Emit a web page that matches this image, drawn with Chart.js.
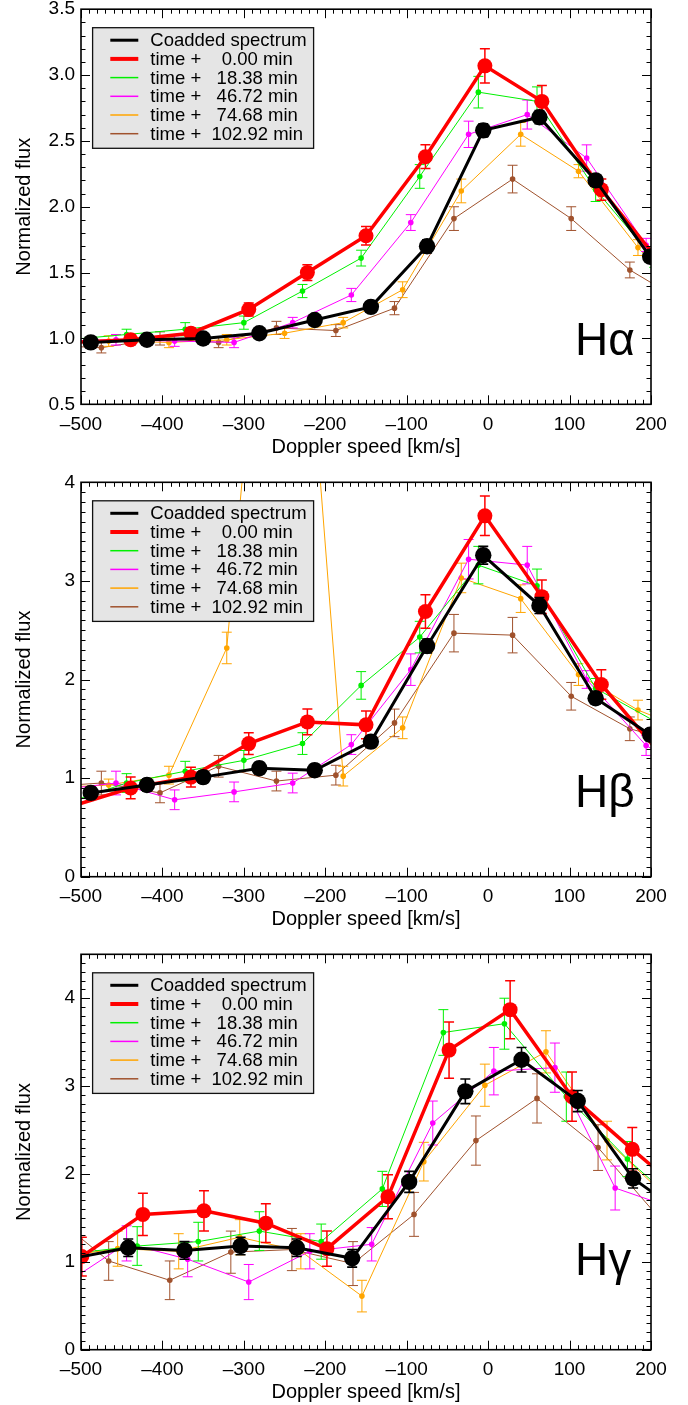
<!DOCTYPE html>
<html>
<head>
<meta charset="utf-8">
<script src="https://cdn.jsdelivr.net/npm/chart.js@4.4.1/dist/chart.umd.min.js"></script>
<style>
  body { margin: 0; background: #fff; width: 688px; height: 1405px; position: relative; overflow: hidden; }
  canvas { position: absolute; left: 0; }
</style>
</head>
<body>
<canvas id="c1" width="688" height="465" style="top:0px"></canvas>
<canvas id="c2" width="688" height="470" style="top:465px"></canvas>
<canvas id="c3" width="688" height="470" style="top:935px"></canvas>
<script>
// legend labels / colours
const seriesLabels = ['Coadded spectrum', 'time +    0.00 min', 'time +   18.38 min',
                      'time +   46.72 min', 'time +   74.68 min', 'time +  102.92 min'];
const seriesColors = ['#000000', '#ff0000', '#00f000', '#ff00ff', '#ffa500', '#a0522d'];

// tick labels
const xTicks = [-500, -400, -300, -200, -100, 0, 100, 200];
const yTicksHa = [0.5, 1.0, 1.5, 2.0, 2.5, 3.0, 3.5];
const yTicksHb = [0, 1, 2, 3, 4];
const yTicksHg = [0, 1, 2, 3, 4];

// velocity bins (km/s), H-alpha and H-beta
const velCoadd = [-488, -419, -350, -281, -213, -144, -75, -6, 63, 132, 199];
const velT0    = [-513, -439, -365, -294, -222, -150, -77, -4, 66, 139, 212];
const velT18   = [-517, -444, -372, -300, -228, -156, -84, -12, 60, 132, 204];
const velT46   = [-530, -457, -385, -312, -240, -168, -95, -24, 48, 121, 194, 267];
const velT74   = [-541, -466, -392, -321, -250, -178, -105, -33, 40, 111, 184, 257];
const velT102  = [-549, -475, -403, -331, -260, -187, -115, -42, 30, 102, 174, 247];

// H-alpha
const haCoadd    = [0.97, 0.99, 1.00, 1.04, 1.14, 1.24, 1.70, 2.58, 2.68, 2.20, 1.62];
const haCoaddErr = [0.03, 0.03, 0.03, 0.03, 0.03, 0.04, 0.05, 0.05, 0.05, 0.04, 0.04];
const haT0       = [0.97, 0.99, 1.04, 1.22, 1.50, 1.78, 2.38, 3.07, 2.80, 2.13, 1.57];
const haT0Err    = [0.04, 0.04, 0.04, 0.05, 0.06, 0.07, 0.09, 0.13, 0.12, 0.08, 0.07];
const haT18      = [0.99, 1.03, 1.07, 1.12, 1.36, 1.61, 2.23, 2.87, 2.80, 2.13, 1.60];
const haT18Err   = [0.04, 0.04, 0.05, 0.05, 0.05, 0.06, 0.09, 0.12, 0.11, 0.09, 0.06];
const haT46      = [0.98, 0.99, 0.98, 0.97, 1.12, 1.33, 1.88, 2.55, 2.70, 2.37, 1.71, 1.20];
const haT46Err   = [0.04, 0.04, 0.04, 0.04, 0.04, 0.05, 0.06, 0.10, 0.11, 0.10, 0.05, 0.05];
const haT74      = [0.97, 0.98, 0.97, 0.99, 1.04, 1.12, 1.37, 2.12, 2.55, 2.27, 1.69, 1.20];
const haT74Err   = [0.04, 0.04, 0.04, 0.04, 0.04, 0.04, 0.06, 0.09, 0.09, 0.05, 0.06, 0.05];
const haT102     = [0.95, 0.93, 1.00, 0.97, 1.08, 1.06, 1.23, 1.91, 2.21, 1.91, 1.52, 1.25];
const haT102Err  = [0.04, 0.04, 0.05, 0.04, 0.05, 0.045, 0.05, 0.09, 0.105, 0.09, 0.06, 0.05];

// H-beta
const hbCoadd    = [0.85, 0.93, 1.01, 1.10, 1.08, 1.37, 2.34, 3.26, 2.75, 1.81, 1.44];
const hbCoaddErr = [0.06, 0.06, 0.06, 0.06, 0.06, 0.06, 0.07, 0.09, 0.08, 0.06, 0.06];
const hbT0       = [0.71, 0.90, 1.01, 1.35, 1.57, 1.54, 2.69, 3.66, 2.84, 1.95, 1.24];
const hbT0Err    = [0.10, 0.11, 0.10, 0.11, 0.13, 0.14, 0.17, 0.20, 0.17, 0.15, 0.12];
const hbT18      = [0.75, 0.95, 1.07, 1.18, 1.35, 1.94, 2.43, 3.16, 2.95, 1.91, 1.58];
const hbT18Err   = [0.09, 0.095, 0.10, 0.10, 0.11, 0.14, 0.16, 0.19, 0.17, 0.10, 0.10];
const hbT46      = [0.88, 0.95, 0.78, 0.86, 0.95, 1.34, 2.10, 3.22, 3.16, 2.00, 1.33, 1.00];
const hbT46Err   = [0.10, 0.12, 0.10, 0.10, 0.10, 0.10, 0.16, 0.20, 0.19, 0.09, 0.10, 0.10];
const hbT74      = [0.90, 0.93, 1.03, 2.32, 8.70, 1.02, 1.51, 3.03, 2.82, 2.05, 1.69, 1.45];
const hbT74Err   = [0.06, 0.06, 0.09, 0.16, 0.30, 0.10, 0.11, 0.15, 0.14, 0.11, 0.10, 0.10];
const hbT102     = [0.91, 0.95, 0.85, 1.12, 0.97, 1.03, 1.56, 2.47, 2.45, 1.83, 1.50, 1.34];
const hbT102Err  = [0.12, 0.12, 0.10, 0.11, 0.10, 0.10, 0.14, 0.19, 0.18, 0.14, 0.12, 0.12];

// H-gamma (own velocity bins)
const velCoaddG = [-510, -442, -373, -304, -235, -167, -97, -28, 41, 110, 178, 247];
const velT0G    = [-499, -424, -349, -273, -198, -123, -48, 27, 103, 177, 252];
const velT18G   = [-506, -431, -356, -281, -205, -130, -55, 20, 96, 171, 245];
const velT46G   = [-518, -444, -369, -294, -219, -143, -68, 7, 82, 156, 231];
const velT74G   = [-530, -455, -380, -305, -230, -155, -79, -4, 71, 146, 221];
const velT102G  = [-541, -466, -391, -316, -241, -166, -91, -15, 60, 135, 210];

const hgCoadd    = [1.04, 1.16, 1.13, 1.18, 1.16, 1.04, 1.91, 2.94, 3.30, 2.83, 1.95, 1.49];
const hgCoaddErr = [0.10, 0.10, 0.10, 0.10, 0.10, 0.10, 0.12, 0.14, 0.14, 0.12, 0.11, 0.10];
const hgT0       = [1.06, 1.54, 1.58, 1.44, 1.15, 1.74, 3.41, 3.87, 2.88, 2.28, 1.69];
const hgT0Err    = [0.22, 0.24, 0.23, 0.22, 0.20, 0.25, 0.32, 0.33, 0.28, 0.25, 0.25];
const hgT18      = [1.10, 1.18, 1.23, 1.35, 1.23, 1.83, 3.61, 3.71, 2.88, 2.17, 1.56];
const hgT18Err   = [0.20, 0.22, 0.22, 0.22, 0.20, 0.20, 0.26, 0.29, 0.28, 0.20, 0.20];
const hgT46      = [0.76, 1.21, 1.03, 0.77, 1.12, 1.20, 2.58, 3.17, 3.21, 1.84, 1.60];
const hgT46Err   = [0.20, 0.20, 0.20, 0.20, 0.20, 0.19, 0.25, 0.27, 0.28, 0.25, 0.20];
const hgT74      = [1.05, 1.15, 1.12, 1.28, 1.12, 0.61, 2.14, 3.01, 3.39, 2.38, 1.72];
const hgT74Err   = [0.20, 0.20, 0.20, 0.20, 0.20, 0.18, 0.22, 0.24, 0.24, 0.22, 0.20];
const hgT102     = [1.58, 1.01, 0.79, 1.11, 1.14, 0.98, 1.54, 2.38, 2.86, 2.30, 1.50];
const hgT102Err  = [0.25, 0.22, 0.22, 0.24, 0.24, 0.25, 0.25, 0.28, 0.28, 0.26, 0.25];

// styling
const FAMILY = "'Liberation Sans', Arial, Helvetica, sans-serif";
const lineWidths = [3, 3.5, 1, 1, 1, 1];
const markerSizes = [8.2, 7.5, 2.8, 2.8, 2.8, 2.8];
const errWidths = [1.6, 1.5, 1, 1, 1, 1];
const legendWidths = [3, 4, 1.5, 1.5, 1.5, 1.5];

// error bars, drawn right after each dataset
const errPlugin = {
  id: 'errbars',
  afterDatasetDraw(chart, args) {
    const ds = chart.data.datasets[args.index];
    if (!ds.err) return;
    const { ctx, chartArea: a, scales: { y } } = chart;
    ctx.save();
    ctx.beginPath();
    ctx.rect(a.left, a.top, a.right - a.left, a.bottom - a.top);
    ctx.clip();
    ctx.strokeStyle = ds.borderColor;
    ctx.lineWidth = ds.errWidth;
    ctx.beginPath();
    args.meta.data.forEach((pt, i) => {
      const e = ds.err[i];
      const v = ds.data[i].y;
      const t = y.getPixelForValue(v + e), b = y.getPixelForValue(v - e);
      ctx.moveTo(pt.x, t); ctx.lineTo(pt.x, b);
      ctx.moveTo(pt.x - 5, t); ctx.lineTo(pt.x + 5, t);
      ctx.moveTo(pt.x - 5, b); ctx.lineTo(pt.x + 5, b);
    });
    ctx.stroke();
    ctx.restore();
  }
};

// grey legend box in the upper left
const boxPlugin = {
  id: 'box',
  afterDatasetsDraw(chart) {
    const { ctx, chartArea: a } = chart;
    const x0 = a.left + 11.6, y0 = a.top + 18.5;
    ctx.save();
    ctx.fillStyle = '#e5e5e5';
    ctx.fillRect(x0, y0, 221, 120.6);
    ctx.strokeStyle = '#111';
    ctx.lineWidth = 1.3;
    ctx.strokeRect(x0, y0, 221, 120.6);
    ctx.font = '18.5px ' + FAMILY;
    ctx.textBaseline = 'middle';
    chart.data.datasets.forEach((ds, i) => {
      const yy = y0 + 12.5 + i * 18.7;
      ctx.strokeStyle = ds.borderColor;
      ctx.lineWidth = legendWidths[i];
      ctx.beginPath();
      ctx.moveTo(a.left + 29.3, yy); ctx.lineTo(a.left + 57.3, yy);
      ctx.stroke();
      ctx.fillStyle = '#000';
      ctx.fillText(ds.label, a.left + 69.3, yy + 1);
    });
    ctx.restore();
  }
};

// box frame with inward ticks on all sides, plus the line name
const framePlugin = {
  id: 'frame',
  afterDraw(chart) {
    const { ctx, chartArea: a, scales: { x, y } } = chart;
    const opt = chart.options.plugins.frame;
    ctx.save();
    ctx.strokeStyle = '#000';
    ctx.lineWidth = 1;
    ctx.beginPath();
    for (let k = 0; k <= 70; k++) {
      const v = -500 + k * 10;
      const px = Math.round(x.getPixelForValue(v)) + 0.5;
      const len = k % 10 === 0 ? 9 : 4.5;
      ctx.moveTo(px, a.bottom); ctx.lineTo(px, a.bottom - len);
      ctx.moveTo(px, a.top); ctx.lineTo(px, a.top + len);
    }
    const n = Math.round((y.max - y.min) * 10);
    for (let k = 0; k <= n; k++) {
      const v = y.min + k / 10;
      const py = Math.round(y.getPixelForValue(v)) + 0.5;
      const major = opt.yTicks.some(t => Math.abs(t - v) < 1e-6);
      const len = major ? 9 : 4.5;
      ctx.moveTo(a.left, py); ctx.lineTo(a.left + len, py);
      ctx.moveTo(a.right, py); ctx.lineTo(a.right - len, py);
    }
    ctx.stroke();
    ctx.lineWidth = 1.6;
    ctx.strokeRect(a.left, a.top, a.right - a.left, a.bottom - a.top);
    ctx.fillStyle = '#000';
    ctx.font = '46px ' + FAMILY;
    ctx.textBaseline = 'alphabetic';
    ctx.fillText(opt.name, 575, opt.nameBase);
    ctx.restore();
  }
};

const panels = [
  { id: 'c1', name: 'H\u03b1', yMin: 0.5, yMax: 3.5, yTicks: yTicksHa, digits: 1,
    top: 9.2, bottom: 404.3, height: 465, nameBase: 355,
    vel: [velCoadd, velT0, velT18, velT46, velT74, velT102],
    flux: [haCoadd, haT0, haT18, haT46, haT74, haT102],
    err: [haCoaddErr, haT0Err, haT18Err, haT46Err, haT74Err, haT102Err] },
  { id: 'c2', name: 'H\u03b2', yMin: 0, yMax: 4, yTicks: yTicksHb, digits: 0,
    top: 17.3, bottom: 411.7, height: 470, nameBase: 342,
    vel: [velCoadd, velT0, velT18, velT46, velT74, velT102],
    flux: [hbCoadd, hbT0, hbT18, hbT46, hbT74, hbT102],
    err: [hbCoaddErr, hbT0Err, hbT18Err, hbT46Err, hbT74Err, hbT102Err] },
  { id: 'c3', name: 'H\u03b3', yMin: 0, yMax: 4.5, yTicks: yTicksHg, digits: 0,
    top: 19.3, bottom: 414.7, height: 470, nameBase: 340,
    vel: [velCoaddG, velT0G, velT18G, velT46G, velT74G, velT102G],
    flux: [hgCoadd, hgT0, hgT18, hgT46, hgT74, hgT102],
    err: [hgCoaddErr, hgT0Err, hgT18Err, hgT46Err, hgT74Err, hgT102Err] }
];

const tickFont = { family: FAMILY, size: 19 };
const titleFont = { family: FAMILY, size: 20 };

// fixed axis sizes, no extra padding requested by the scales
function fixScale(s, size) {
  if (s.isHorizontal()) s.height = size; else s.width = size;
  s.paddingTop = 0; s.paddingBottom = 0; s.paddingLeft = 0; s.paddingRight = 0;
}

function makePanel(p) {
  const datasets = seriesLabels.map((label, i) => ({
    label,
    data: p.vel[i].map((v, k) => ({ x: v, y: p.flux[i][k] })),
    err: p.err[i],
    errWidth: errWidths[i],
    borderColor: seriesColors[i],
    backgroundColor: seriesColors[i],
    pointBackgroundColor: seriesColors[i],
    borderWidth: lineWidths[i],
    pointRadius: markerSizes[i],
    pointBorderWidth: 0,
    tension: 0,
    clip: 0
  }));

  new Chart(document.getElementById(p.id), {
    type: 'line',
    data: { datasets },
    options: {
      responsive: false,
      animation: false,
      devicePixelRatio: 1,
      layout: { padding: { left: 0, right: 37, top: p.top, bottom: p.height - p.bottom - 55 } },
      plugins: {
        legend: { display: false },
        tooltip: { enabled: false },
        frame: { name: p.name, nameBase: p.nameBase, yTicks: p.yTicks }
      },
      scales: {
        x: {
          type: 'linear', min: -500, max: 200,
          grid: { display: false, drawTicks: false },
          border: { display: false },
          afterBuildTicks: s => { s.ticks = xTicks.map(v => ({ value: v })); },
          afterFit: s => fixScale(s, 55),
          ticks: { padding: 9, color: '#000', font: tickFont, maxRotation: 0, autoSkip: false,
                   callback: v => (v < 0 ? '\u2013' + Math.abs(v) : String(v)) },
          title: { display: true, text: 'Doppler speed [km/s]', color: '#000', font: titleFont,
                   padding: { top: 0, bottom: 0 } }
        },
        y: {
          type: 'linear', min: p.yMin, max: p.yMax,
          grid: { display: false, drawTicks: false },
          border: { display: false },
          afterBuildTicks: s => { s.ticks = p.yTicks.map(v => ({ value: v })); },
          afterFit: s => fixScale(s, 81),
          ticks: { padding: 6, color: '#000', font: tickFont, autoSkip: false,
                   callback: v => v.toFixed(p.digits) },
          title: { display: true, text: 'Normalized flux', color: '#000', font: titleFont,
                   padding: { top: 12, bottom: 0 } }
        }
      }
    },
    plugins: [errPlugin, boxPlugin, framePlugin]
  });
}

panels.forEach(makePanel);
</script>
</body>
</html>
